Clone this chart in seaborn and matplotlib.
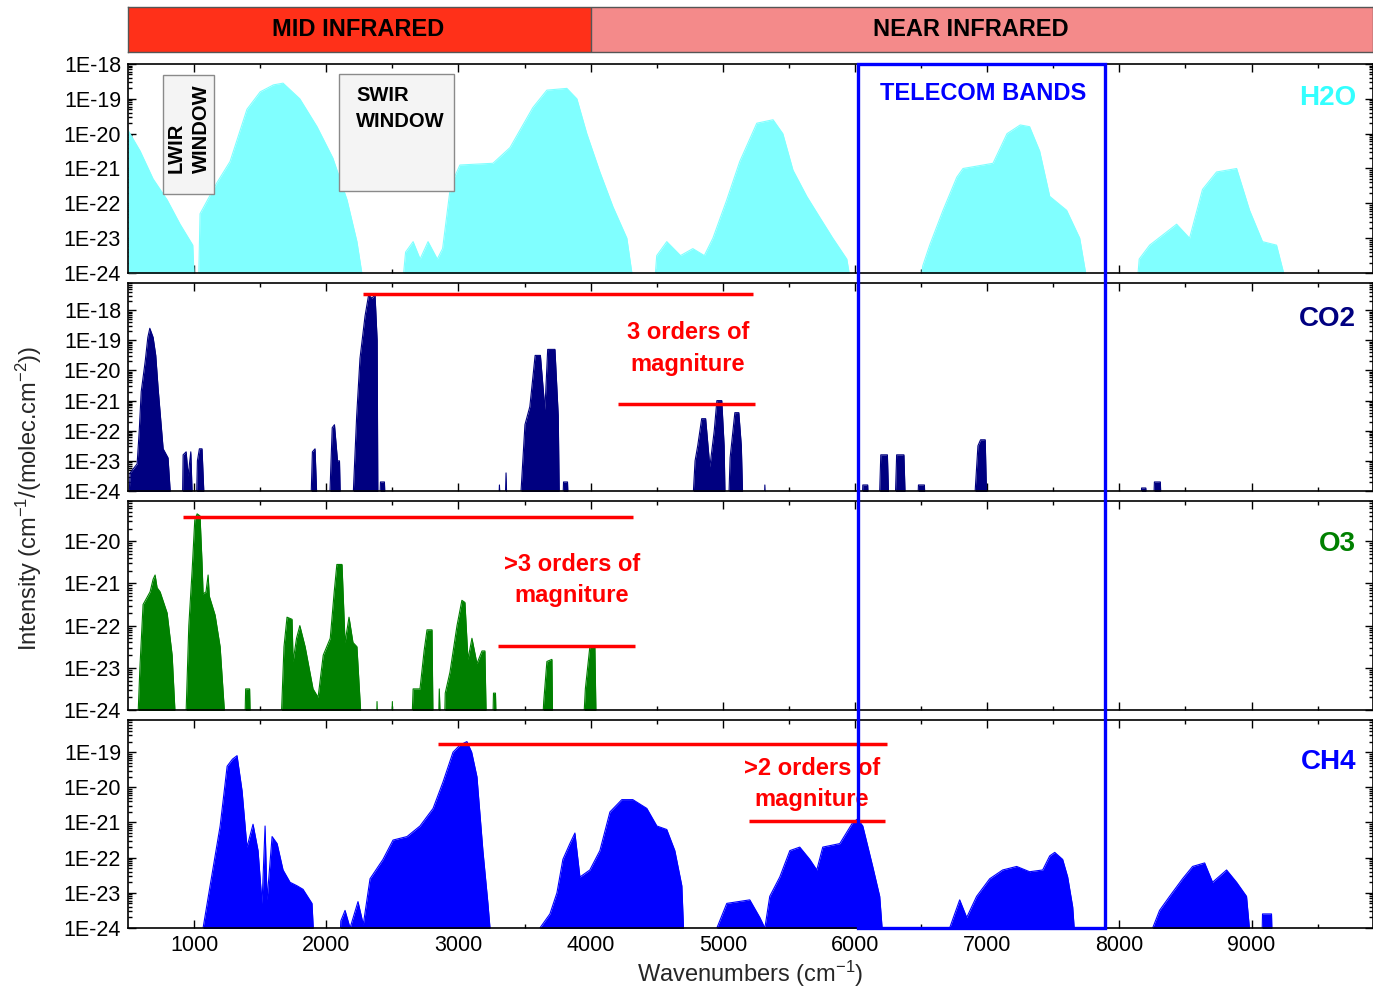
import numpy as np
import pandas as pd
import matplotlib
matplotlib.use("Agg")
import matplotlib.pyplot as plt
import seaborn as sns
from matplotlib.patches import Rectangle
from matplotlib.ticker import LogLocator, FuncFormatter, NullFormatter, FixedLocator

# ---------------- data (wavenumber cm-1, log10 intensity envelope) ----------------
H2O_WN = [500, 592, 690, 796, 894, 990, 1010, 1030, 1045, 1174, 1272, 1400, 1500, 1600, 1673, 1800,
          1930, 2050, 2157, 2232, 2310, 2560, 2600, 2657, 2710, 2770, 2840, 2880, 2940, 3011, 3261,
          3390, 3563, 3669, 3820, 3896, 3971, 4070, 4169, 4274, 4350, 4470, 4500, 4576, 4680, 4773,
          4860, 4925, 5030, 5128, 5257, 5380, 5454, 5531, 5635, 5733, 5832, 5938, 6000, 6480, 6512,
          6565, 6666, 6770, 6817, 6969, 7044, 7150, 7250, 7321, 7397, 7473, 7601, 7700, 7790, 8120,
          8150, 8229, 8433, 8531, 8629, 8735, 8887, 8985, 9083, 9189, 9310, 9915]
H2O_LOG = [-19.9, -20.5, -21.3, -21.9, -22.6, -23.2, -25, -25, -22.3, -21.4, -20.8, -19.3, -18.8, -18.6,
           -18.55, -19.0, -19.8, -20.7, -21.9, -23.1, -25, -25, -23.4, -23.1, -23.6, -23.1, -23.6, -23.3,
           -21.5, -20.9, -20.85, -20.4, -19.25, -18.75, -18.7, -19.0, -20.0, -21.1, -22.1, -23.0, -25,
           -25, -23.5, -23.1, -23.5, -23.3, -23.5, -23.0, -21.9, -20.8, -19.7, -19.6, -20.0, -21.05,
           -21.8, -22.4, -23.0, -23.6, -25, -25, -23.8, -23.2, -22.2, -21.25, -21.0, -20.9, -20.85,
           -20.0, -19.75, -19.8, -20.5, -21.8, -22.2, -23.0, -25, -25, -23.6, -23.2, -22.6, -23.0,
           -21.6, -21.1, -21.0, -22.2, -23.1, -23.2, -25, -25]

CO2_WN = [500, 516, 569, 585, 600, 630, 650, 665, 690, 710, 728, 766, 803, 834,
          910, 917, 940, 955, 975, 992, 1015, 1025, 1040, 1060, 1083,
          1880, 1895, 1915, 1935, 2020, 2045, 2062, 2085, 2100, 2110,
          2195, 2230, 2255, 2293, 2320, 2345, 2369, 2385, 2391, 2400, 2410, 2440, 2450,
          3300, 3310, 3320, 3350, 3360, 3370,
          3460, 3503, 3540, 3580, 3620, 3654, 3675, 3730, 3755, 3765, 3785, 3795, 3825, 3835,
          4765, 4790, 4810, 4840, 4870, 4902, 4935, 4955, 4992, 5010, 5020, 5040, 5055, 5091,
          5121, 5140, 5155, 5310, 5318, 5325,
          6050, 6059, 6096, 6105, 6180, 6195, 6245, 6260, 6300, 6315, 6370, 6385,
          6470, 6480, 6525, 6535, 6895, 6930, 6950, 6985, 7000,
          8160, 8168, 8200, 8210, 8255, 8265, 8310, 8320, 9915]
CO2_LOG = [-25, -23.4, -23.1, -22.0, -20.7, -19.7, -18.9, -18.6, -18.9, -19.5, -20.6, -22.6, -22.9, -25,
           -25, -22.8, -22.7, -23.5, -22.7, -25, -25, -23.0, -22.6, -22.6, -25,
           -25, -22.7, -22.6, -25, -25, -21.9, -21.8, -23.0, -23.0, -25,
           -25, -21.5, -19.6, -18.2, -17.5, -17.6, -17.5, -19.0, -25, -25, -23.7, -23.7, -25,
           -25, -23.8, -25, -25, -23.4, -25,
           -25, -21.8, -21.2, -19.5, -19.5, -21.3, -19.3, -19.3, -21.5, -25, -25, -23.7, -23.7, -25,
           -25, -23.0, -22.5, -21.6, -21.6, -23.2, -22.0, -21.0, -21.0, -22.5, -25, -25, -22.9, -21.4,
           -21.4, -22.5, -25, -25, -23.8, -25,
           -25, -23.8, -23.8, -25, -25, -22.8, -22.8, -25, -25, -22.8, -22.8, -25,
           -25, -23.8, -23.8, -25, -25, -22.5, -22.3, -22.3, -25,
           -25, -23.9, -23.9, -25, -25, -23.7, -23.7, -25, -25]

O3_WN = [500, 565, 590, 614, 667, 690, 705, 720, 743, 796, 834, 871,
         930, 960, 985, 1005, 1023, 1045, 1060, 1068, 1090, 1106, 1115, 1159, 1197, 1250,
         1380, 1390, 1420, 1430,
         1650, 1680, 1703, 1741, 1749, 1775, 1800, 1840, 1900, 1938, 1977, 2030, 2060, 2080, 2119,
         2142, 2172, 2202, 2232, 2278,
         2375, 2384, 2392, 2490, 2500, 2508,
         2640, 2657, 2709, 2740, 2762, 2800, 2810, 2845, 2855, 2870,
         2890, 2900, 2936, 2989, 3026, 3049, 3072, 3102, 3140, 3178, 3200, 3215,
         3255, 3265, 3280, 3290, 3625, 3645, 3669, 3707, 3715,
         3935, 3960, 3994, 4032, 4045, 9915]
O3_LOG = [-25, -25, -23.0, -21.5, -21.2, -20.9, -20.8, -21.1, -21.2, -21.7, -22.7, -25,
          -25, -22.0, -20.7, -19.5, -19.35, -19.4, -20.5, -21.25, -21.2, -20.8, -21.3, -21.75, -22.5, -25,
          -25, -23.5, -23.5, -25,
          -25, -22.5, -21.8, -21.85, -22.85, -22.3, -22.0, -22.5, -23.5, -23.7, -22.7, -22.3, -21.2,
          -20.55, -20.55, -22.4, -21.8, -22.4, -22.5, -25,
          -25, -23.8, -25, -25, -23.8, -25,
          -25, -23.5, -23.5, -22.6, -22.1, -22.1, -25, -25, -23.5, -25,
          -25, -23.6, -23.1, -22.0, -21.4, -21.45, -22.8, -22.3, -22.9, -22.6, -22.6, -25,
          -25, -23.6, -23.6, -25, -25, -23.8, -22.85, -22.8, -25,
          -25, -23.5, -22.5, -22.5, -25, -25]

CH4_WN = [500, 1060, 1068, 1121, 1197, 1250, 1290, 1325, 1363, 1400, 1446, 1484, 1514, 1537, 1552,
          1590, 1628, 1673, 1726, 1779, 1824, 1892, 1915,
          2095, 2110, 2142, 2180, 2240, 2280, 2331, 2429, 2505, 2611, 2709, 2808, 2883, 2959, 3011,
          3064, 3100, 3140, 3185, 3223, 3261,
          3600, 3616, 3692, 3745, 3790, 3843, 3881, 3919, 3994, 4070, 4146, 4236, 4319, 4425, 4501,
          4576, 4637, 4690, 4713,
          4945, 4955, 5030, 5204, 5280, 5318, 5355, 5431, 5507, 5582, 5658, 5711, 5756, 5885, 5983,
          6020, 6059, 6134, 6187, 6225,
          6710, 6716, 6792, 6845, 6920, 7019, 7117, 7223, 7321, 7420, 7473, 7511, 7571, 7609, 7647,
          7677,
          8245, 8252, 8304, 8380, 8478, 8554, 8645, 8705, 8811, 8887, 8962, 9008,
          9075, 9083, 9151, 9160, 9915]
CH4_LOG = [-25, -25, -24.0, -22.8, -21.1, -19.4, -19.2, -19.1, -20.1, -21.7, -21.05, -21.8, -23.3, -21.1,
           -23.2, -21.4, -21.6, -22.35, -22.7, -22.8, -22.9, -23.3, -25,
           -25, -23.8, -23.5, -24.0, -23.25, -23.9, -22.6, -22.05, -21.5, -21.4, -21.1, -20.6, -19.85,
           -19.0, -18.8, -18.7, -19.0, -19.7, -21.8, -23.3, -25,
           -25, -24.0, -23.6, -23.0, -22.05, -21.6, -21.3, -22.55, -22.35, -21.8, -20.7, -20.35, -20.35,
           -20.6, -21.1, -21.2, -21.8, -22.8, -25,
           -25, -24.0, -23.3, -23.2, -23.7, -24.0, -23.1, -22.55, -21.8, -21.7, -22.05, -22.35, -21.7,
           -21.6, -21.0, -20.9, -21.1, -22.25, -23.1, -25,
           -25, -24.0, -23.2, -23.7, -23.1, -22.6, -22.35, -22.25, -22.4, -22.35, -21.95, -21.85, -22.05,
           -22.55, -23.4, -25,
           -25, -24.0, -23.5, -23.1, -22.6, -22.25, -22.15, -22.7, -22.35, -22.7, -23.1, -25,
           -25, -23.6, -23.6, -25, -25]

MOLECULES = ["H2O", "CO2", "O3", "CH4"]
X_TICKS = [1000, 2000, 3000, 4000, 5000, 6000, 7000, 8000, 9000]
REGIONS = ["MID INFRARED", "NEAR INFRARED"]
REGION_EDGES = [500, 4000, 9915]
TELECOM = [6020, 7890]

# ---------------- style ----------------
sns.set_theme(style="ticks")
plt.rcParams["font.family"] = ["Liberation Sans", "DejaVu Sans"]
plt.rcParams["mathtext.default"] = "regular"
plt.rcParams["axes.edgecolor"] = "black"
plt.rcParams["axes.linewidth"] = 1.2

FILL = {"H2O": "#80FFFF", "CO2": "#000080", "O3": "#008000", "CH4": "#0000FF"}
LABC = {"H2O": "#33FFFF", "CO2": "#000080", "O3": "#008000", "CH4": "#0000FF"}
YLIM = {"H2O": (1e-24, 1e-18), "CO2": (1e-24, 8e-18), "O3": (1e-24, 9e-20), "CH4": (1e-24, 8.2e-19)}
YDEC = {"H2O": range(-24, -17), "CO2": range(-24, -17), "O3": range(-24, -19), "CH4": range(-24, -18)}
DATA = {"H2O": (H2O_WN, H2O_LOG), "CO2": (CO2_WN, CO2_LOG), "O3": (O3_WN, O3_LOG), "CH4": (CH4_WN, CH4_LOG)}

W, H = 1373, 990
fig = plt.figure(figsize=(W / 100, H / 100), dpi=100)

def px_axes(x0, y0, x1, y1):
    return fig.add_axes([x0 / W, 1 - y1 / H, (x1 - x0) / W, (y1 - y0) / H])

XMIN, XMAX = 500, 9915
panel_px = {"H2O": (64, 273), "CO2": (283, 491), "O3": (501, 710), "CH4": (720, 928)}
axes = {}
for m in MOLECULES:
    y0, y1 = panel_px[m]
    ax = px_axes(128, y0, 1372.5, y1)
    axes[m] = ax
    ax.set_yscale("log")
    ax.set_xlim(XMIN, XMAX)
    ax.set_ylim(*YLIM[m])
    wn, lg = DATA[m]
    df = pd.DataFrame({"wn": wn, "I": np.power(10.0, lg)})
    ax.fill_between(df["wn"], 1e-27, df["I"], color=FILL[m], lw=0, zorder=2)
    sns.lineplot(data=df, x="wn", y="I", color=FILL[m], lw=0.8, ax=ax, zorder=2, sort=False)
    ax.set_xlabel("")
    ax.set_ylabel("")
    ax.xaxis.set_major_locator(FixedLocator(X_TICKS))
    ax.xaxis.set_minor_locator(FixedLocator([1500, 2500, 3500, 4500, 5500, 6500, 7500, 8500, 9500]))
    ax.yaxis.set_major_locator(FixedLocator([10.0 ** d for d in YDEC[m]]))
    ax.yaxis.set_minor_locator(LogLocator(base=10, subs=np.arange(2, 10), numticks=100))
    ax.yaxis.set_minor_formatter(NullFormatter())
    ax.yaxis.set_major_formatter(FuncFormatter(lambda v, p: "1E%d" % int(round(np.log10(v)))))
    ax.tick_params(which="both", direction="in", top=True, right=True, width=1.0, colors="black",
                   labelsize=15.5, pad=5)
    ax.tick_params(which="major", length=6)
    ax.tick_params(which="minor", length=3)
    if m != "CH4":
        ax.tick_params(labelbottom=False)
    for s in ax.spines.values():
        s.set_zorder(5)
    ax.text(0.987, {"H2O": 0.835, "CO2": 0.825, "O3": 0.794, "CH4": 0.798}[m], m,
            transform=ax.transAxes, ha="right", va="center", fontsize=20, fontweight="bold",
            color=LABC[m])

axes["CH4"].set_xlabel("Wavenumbers (cm$^{-1}$)", fontsize=17, labelpad=2)
fig.text(0.021, 0.497, "Intensity (cm$^{-1}$/(molec.cm$^{-2}$))", rotation=90, ha="center",
         va="center", fontsize=17)

# ---------------- top region band ----------------
axt = px_axes(128, 7, 1372.5, 52)
axt.set_xlim(XMIN, XMAX)
axt.set_ylim(0, 1)
region_colors = ["#FF3019", "#F48A8A"]
for i, name in enumerate(REGIONS):
    axt.axvspan(REGION_EDGES[i], REGION_EDGES[i + 1], color=region_colors[i], lw=0)
axt.axvline(REGION_EDGES[1], color="#555555", lw=1)
axt.text(2240, 0.5, REGIONS[0], ha="center", va="center", fontsize=17, fontweight="bold", color="black")
axt.text(6875, 0.5, REGIONS[1], ha="center", va="center", fontsize=17, fontweight="bold", color="black")
axt.set_xticks([])
axt.set_yticks([])
for s in axt.spines.values():
    s.set_color("#555555")
    s.set_linewidth(1)

# ---------------- window boxes in H2O panel ----------------
a = axes["H2O"]
a.add_patch(Rectangle((766, 10 ** -21.72), 1151 - 766, 10 ** -18.32 - 10 ** -21.72,
                      facecolor="#F4F4F4", edgecolor="#8A8A8A", lw=1, zorder=4))
a.text(960, 10 ** -19.85, "LWIR\nWINDOW", rotation=90, ha="center", va="center",
       multialignment="left", fontsize=14.5, fontweight="bold", color="black", zorder=6,
       linespacing=1.45)
a.add_patch(Rectangle((2096, 10 ** -21.66), 2966 - 2096, 10 ** -18.29 - 10 ** -21.66,
                      facecolor="#F4F4F4", edgecolor="#8A8A8A", lw=1, zorder=4))
a.text(2225, 10 ** -18.62, "SWIR\nWINDOW", ha="left", va="top", fontsize=14.5,
       fontweight="bold", color="black", zorder=6, linespacing=1.5)
a.text(6966, 0.861, "TELECOM BANDS", transform=a.get_xaxis_transform(), ha="center",
       va="center", fontsize=17, fontweight="bold", color="#0000FF", zorder=7)

# ---------------- dynamic range annotations ----------------
red_lines = {
    "CO2": [(3.4e-18, 2278, 5227), (8e-22, 4206, 5242)],
    "O3": [(3.7e-20, 917, 4319), (3.3e-23, 3299, 4335)],
    "CH4": [(1.7e-19, 2845, 6240), (1.07e-21, 5197, 6225)],
}
red_text = {
    "CO2": (4735, 0.685, "3 orders of\nmagniture"),
    "O3": (3858, 0.62, ">3 orders of\nmagniture"),
    "CH4": (5673, 0.692, ">2 orders of\nmagniture"),
}
for m, lines in red_lines.items():
    ax = axes[m]
    for yv, x0, x1 in lines:
        ax.hlines(yv, x0, x1, color="#FF0000", lw=2.5, zorder=6)
    tx, ty, t = red_text[m]
    ax.text(tx, ty, t, transform=ax.get_xaxis_transform(), ha="center", va="center",
            fontsize=17, fontweight="bold", color="#FF0000", linespacing=1.45, zorder=6)

# ---------------- telecom rectangle spanning all panels ----------------
fig.canvas.draw()
inv = fig.transFigure.inverted()
top_disp = axes["H2O"].transAxes.transform((0, 1))[1]
bot_disp = axes["CH4"].transAxes.transform((0, 0))[1]
x0_disp = axes["H2O"].transData.transform((TELECOM[0], 1e-20))[0]
x1_disp = axes["H2O"].transData.transform((TELECOM[1], 1e-20))[0]
(fx0, fy0) = inv.transform((x0_disp, bot_disp))
(fx1, fy1) = inv.transform((x1_disp, top_disp))
fig.add_artist(Rectangle((fx0, fy0), fx1 - fx0, fy1 - fy0, transform=fig.transFigure,
                         fill=False, edgecolor="#0000FF", lw=2.4, zorder=20))

fig.savefig("out.png", dpi=100, facecolor="white")
